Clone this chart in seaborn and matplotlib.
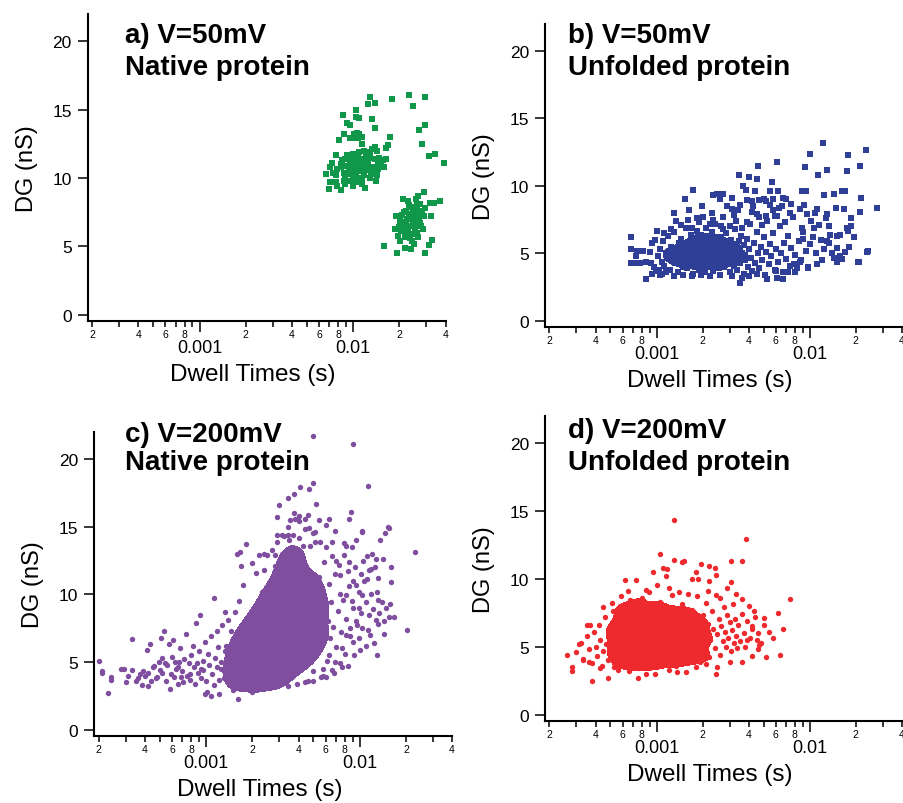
import numpy as np
import pandas as pd
import matplotlib
matplotlib.use('Agg')
import matplotlib.pyplot as plt
from matplotlib.ticker import LogLocator, FuncFormatter, MultipleLocator
from matplotlib.colors import ListedColormap
import seaborn as sns

# (dwell time in ms, DG in nS)
native_50mV = [
    (12.8, 15.9), (17.8, 15.8), (12.5, 15.4), (13.9, 15.5), (10.4, 15.0), (8.6, 14.6), (10.4, 14.5), (11.0, 14.4),
    (13.2, 14.3), (9.1, 14.0), (9.5, 13.9), (13.9, 13.7), (10.6, 13.3), (8.7, 13.2), (10.2, 13.2), (11.0, 13.2),
    (11.4, 13.0), (9.6, 12.9), (8.1, 12.8), (17.3, 13.0), (10.4, 12.9), (10.8, 12.9), (11.4, 12.5), (16.3, 12.2),
    (17.0, 12.4), (13.8, 12.3), (13.3, 12.1), (14.3, 12.0), (12.8, 11.9), (7.8, 11.7), (8.9, 11.4), (10.0, 11.8),
    (10.9, 11.9), (12.1, 11.7),
    (23.3, 16.1), (29.6, 15.9), (24.7, 15.3), (29.6, 13.9), (26.8, 13.5), (28.0, 12.5), (34.0, 11.8), (31.3, 11.6),
    (38.9, 11.1),
    (11.4, 11.4), (10.6, 11.3), (9.6, 11.1), (9.3, 11.4), (8.5, 11.3), (12.8, 11.5), (13.8, 11.4), (14.7, 11.5),
    (15.6, 11.3), (16.5, 11.4), (10.4, 11.0), (10.9, 10.9), (12.0, 11.0), (9.8, 10.8), (9.1, 10.9), (8.3, 11.0),
    (7.3, 11.1), (7.1, 10.8), (6.7, 10.3), (7.9, 10.7), (8.7, 10.4), (9.6, 10.5), (10.5, 10.4), (11.4, 10.5),
    (12.6, 10.8), (13.5, 10.8), (14.5, 10.7), (15.2, 10.9), (16.0, 10.8), (7.8, 10.2), (8.9, 10.0), (10.0, 10.2),
    (10.8, 10.0), (11.7, 10.2), (13.1, 10.3), (14.3, 10.2), (7.1, 9.7), (7.8, 9.7), (8.7, 9.8), (9.6, 9.8),
    (10.5, 9.7), (11.4, 9.6), (12.0, 9.3), (8.9, 9.6), (10.0, 9.4), (8.3, 9.1), (7.0, 9.2), (7.9, 9.4),
    (13.6, 10.3), (14.1, 9.8), (14.5, 11.1), (8.3, 10.8), (7.4, 10.4), (9.3, 10.3),
    (10.2, 11.0), (10.6, 10.7), (11.0, 11.2), (9.9, 11.3), (10.8, 11.6), (11.6, 11.0), (12.3, 10.6), (9.4, 10.6),
    (10.3, 10.1), (11.2, 10.8), (12.0, 11.4), (10.0, 11.6), (9.2, 11.7), (11.8, 12.0), (12.5, 11.2), (13.2, 10.6),
    (8.8, 10.9), (10.7, 9.9), (11.5, 9.9), (12.9, 10.0),
    (28.9, 9.0), (26.5, 8.7), (22.7, 8.3), (21.1, 8.5), (25.8, 8.5), (31.8, 8.2), (33.7, 8.2), (36.8, 8.3),
    (27.1, 8.1), (24.7, 7.85), (29.6, 7.8), (27.7, 7.6), (22.0, 7.6), (19.0, 7.2), (20.9, 7.3), (23.3, 7.4),
    (26.0, 7.2), (28.8, 7.2), (32.3, 7.2), (20.1, 6.9), (22.2, 6.8), (24.6, 6.9), (27.1, 6.7), (18.8, 6.3),
    (20.6, 6.1), (22.7, 6.2), (25.3, 6.3), (28.6, 6.3), (19.5, 5.8), (21.7, 5.7), (24.1, 5.9), (26.5, 5.7),
    (20.1, 5.4), (24.1, 5.4), (32.8, 5.5), (16.0, 5.0), (21.7, 4.9), (24.0, 4.8), (19.2, 4.5), (29.6, 4.5),
    (31.1, 5.1),
    (22.5, 7.0), (23.8, 7.1), (24.9, 6.6), (23.0, 6.5), (21.5, 7.5), (25.5, 7.6), (26.8, 7.0), (24.3, 7.9),
    (22.0, 6.1), (25.9, 6.0), (23.5, 5.6), (27.5, 6.5), (21.0, 6.6), (24.0, 7.3), (23.2, 8.0), (26.0, 8.0),
    (22.8, 5.9), (25.0, 5.2), (28.0, 7.4), (19.8, 6.4),
]

unfolded_50mV_spread = [
    (12.2, 13.2), (10.0, 12.4), (17.9, 12.3), (23.2, 12.7), (4.63, 11.45), (6.08, 11.8), (9.3, 11.4), (13.0, 11.2),
    (17.5, 11.1), (21.2, 11.5), (11.3, 10.8), (3.47, 10.8), (4.0, 10.7), (4.5, 10.5), (5.7, 10.3), (3.66, 10.0),
    (3.86, 9.7), (4.4, 9.6), (1.72, 9.7), (5.5, 9.6), (6.2, 9.6), (8.9, 9.6), (9.4, 9.6), (12.4, 9.3),
    (14.4, 9.4), (16.2, 9.6), (17.1, 9.6), (21.7, 9.1), (27.4, 8.4), (21.3, 8.1), (16.8, 8.3), (18.6, 7.6),
    (13.0, 7.9), (1.53, 9.0), (1.31, 8.0), (1.63, 8.2), (1.97, 8.5), (2.35, 9.3), (2.47, 9.4), (2.73, 9.4),
    (3.1, 9.1), (2.6, 9.0), (3.1, 8.3), (3.52, 8.6), (3.87, 8.95), (4.18, 8.9), (4.7, 8.95), (5.2, 8.9),
    (5.8, 9.0), (6.7, 9.1), (7.5, 8.7), (6.6, 8.5), (5.8, 8.2), (6.1, 7.8), (5.2, 7.8), (4.7, 7.7),
    (4.29, 8.5), (3.2, 7.85), (2.73, 7.7), (2.35, 7.5), (1.83, 7.6), (2.24, 7.2), (1.0, 6.7), (0.68, 6.2),
    (0.94, 5.8), (0.68, 5.3), (0.75, 5.2), (0.82, 5.2), (0.90, 5.1), (0.74, 4.8), (0.68, 4.3), (0.73, 4.3),
    (0.78, 4.3), (0.85, 4.4), (0.92, 4.3), (0.93, 3.5), (0.86, 3.1), (1.04, 3.8), (1.08, 3.5), (8.9, 6.9),
    (9.1, 6.1), (10.6, 6.9), (11.5, 7.1), (13.3, 7.0), (15.1, 6.3), (15.9, 6.4), (17.8, 6.7), (18.6, 7.0),
    (13.0, 5.9), (13.3, 5.8), (15.1, 5.4), (17.1, 5.1), (23.7, 5.1), (20.6, 4.4), (15.9, 4.8), (14.4, 4.7),
    (15.1, 4.4), (11.1, 4.2), (9.7, 3.9), (8.7, 4.4), (7.9, 4.2), (6.1, 3.2), (6.7, 3.1), (3.52, 2.8),
    (4.0, 5.3), (4.1, 7.2), (4.15, 4.7), (4.2, 3.7), (4.3, 5.8), (4.4, 4.3), (4.5, 6.6), (4.6, 5.0),
    (4.7, 3.9), (4.8, 5.5), (4.9, 4.5), (5.0, 6.2), (5.1, 3.4), (5.2, 5.1), (5.3, 7.4), (5.4, 4.2),
    (5.5, 5.7), (5.6, 4.8), (5.8, 6.5), (5.9, 3.8), (6.0, 5.3), (6.2, 4.4), (6.4, 7.0), (6.5, 5.0),
    (6.7, 3.6), (6.8, 5.8), (7.0, 4.6), (7.2, 6.3), (7.4, 4.1), (7.6, 5.4), (7.8, 7.7), (8.0, 4.9),
    (8.3, 3.9), (8.5, 5.9), (8.8, 4.5), (9.0, 6.6), (9.4, 5.2), (9.8, 4.0), (10.0, 5.7), (10.5, 6.2),
    (11.0, 5.0), (10.2, 7.4), (9.6, 7.9), (8.6, 8.3), (7.4, 8.0), (6.9, 7.3), (5.9, 7.8), (5.5, 8.6),
    (4.9, 7.1), (4.5, 7.9), (3.9, 7.3), (3.6, 6.9), (3.3, 7.4), (3.0, 7.0), (2.7, 6.8), (2.4, 7.2),
    (2.1, 6.9), (1.9, 7.3), (1.7, 6.9), (1.45, 7.1), (1.25, 6.8), (1.12, 6.5), (0.98, 6.0), (0.96, 4.0),
    (0.99, 3.7), (1.06, 3.4), (1.16, 3.6), (1.3, 3.3), (1.5, 3.4), (1.7, 3.3), (1.95, 3.4), (2.25, 3.3),
    (2.6, 3.4), (3.1, 3.3), (3.6, 3.2), (4.0, 3.3), (4.5, 3.5), (5.3, 3.1), (6.0, 3.7), (7.2, 3.6),
    (8.0, 3.6), (12.0, 4.5), (12.5, 5.3), (13.6, 6.4), (11.8, 6.0), (14.0, 5.0), (16.2, 4.6), (18.0, 5.5),
    (19.5, 6.2), (24.0, 5.2), (21.0, 4.4), (17.5, 6.9), (12.8, 7.6), (14.8, 8.4), (11.2, 8.3), (10.8, 8.0),
    (9.2, 8.6), (7.0, 9.0), (6.3, 8.4), (5.0, 9.0), (4.2, 8.1), (3.4, 8.2), (2.9, 8.5), (2.3, 8.0),
    (2.0, 7.7), (1.6, 7.5), (1.35, 7.4),
]

unfolded_50mV_core = [
    (1.02, 4.8), (1.05, 5.3), (1.08, 4.4), (1.1, 5.9), (1.12, 4.1), (1.15, 5.0), (1.18, 6.3), (1.2, 4.6),
    (1.22, 3.8), (1.25, 5.5), (1.28, 4.9), (1.3, 6.6), (1.32, 4.3), (1.35, 5.2), (1.38, 3.6), (1.4, 5.8),
    (1.42, 4.7), (1.45, 6.1), (1.48, 4.0), (1.5, 5.4), (1.52, 4.5), (1.55, 6.9), (1.58, 3.9), (1.6, 5.1),
    (1.62, 5.7), (1.65, 4.2), (1.68, 6.4), (1.7, 4.8), (1.72, 3.5), (1.75, 5.3), (1.78, 6.0), (1.8, 4.4),
    (1.82, 5.0), (1.85, 6.7), (1.88, 3.8), (1.9, 5.6), (1.92, 4.6), (1.95, 5.9), (1.98, 4.1), (2.0, 5.2),
    (2.02, 6.3), (2.05, 4.7), (2.08, 3.6), (2.1, 5.5), (2.12, 4.3), (2.15, 6.0), (2.18, 5.0), (2.2, 4.0),
    (2.25, 5.8), (2.28, 4.5), (2.3, 6.6), (2.35, 3.7), (2.38, 5.3), (2.4, 4.9), (2.45, 6.2), (2.48, 4.2),
    (2.5, 5.6), (2.55, 3.9), (2.6, 5.1), (2.62, 7.0), (2.65, 4.6), (2.7, 5.9), (2.75, 4.0), (2.8, 5.4),
    (2.85, 6.5), (2.9, 4.4), (2.95, 5.0), (3.0, 3.6), (3.05, 6.0), (3.1, 4.8), (3.15, 5.5), (3.2, 4.1),
    (3.25, 6.8), (3.3, 5.2), (3.35, 3.8), (3.4, 4.6), (3.45, 5.9), (3.5, 4.3), (3.55, 6.3), (3.6, 5.0),
    (3.7, 3.5), (3.75, 5.6), (3.8, 4.5), (3.9, 6.1), (3.95, 4.0),
    (1.5, 4.9), (1.6, 4.4), (1.7, 5.5), (1.8, 5.2), (1.9, 4.3), (2.0, 4.8), (2.1, 5.8), (2.2, 5.4),
    (2.3, 4.8), (2.4, 5.2), (1.65, 5.9), (1.75, 4.6), (1.85, 4.9), (2.05, 5.1), (2.15, 4.5), (2.35, 5.7),
    (2.5, 4.4), (2.7, 4.9), (2.9, 5.7), (3.1, 5.2), (1.4, 4.4), (1.3, 5.4), (1.2, 5.1), (1.35, 4.7),
    (2.6, 6.2), (2.2, 6.1), (1.95, 6.4), (3.3, 4.6), (3.5, 5.4), (3.8, 4.9),
]

native_200mV_spread = [
    (0.20, 5.1), (0.21, 4.2), (0.21, 4.3), (0.23, 2.7), (0.24, 3.9), (0.24, 3.7), (0.28, 4.5), (0.29, 4.5),
    (0.30, 3.5), (0.31, 4.0), (0.33, 4.4), (0.33, 6.7), (0.35, 3.6), (0.36, 3.8), (0.37, 4.1), (0.38, 3.3),
    (0.39, 4.3), (0.40, 4.0), (0.41, 5.9), (0.42, 3.2), (0.42, 4.2), (0.43, 6.3), (0.44, 3.6), (0.46, 4.7),
    (0.48, 3.9), (0.49, 5.0), (0.50, 4.4), (0.51, 6.8), (0.52, 4.2), (0.53, 7.3), (0.55, 3.6), (0.56, 4.8),
    (0.57, 6.3), (0.58, 3.0), (0.59, 4.1), (0.60, 5.4), (0.61, 6.6), (0.62, 3.9), (0.64, 4.5), (0.66, 3.4),
    (0.67, 5.0), (0.68, 6.0), (0.70, 4.3), (0.71, 3.5), (0.72, 5.2), (0.74, 7.1), (0.75, 4.0), (0.77, 4.9),
    (0.78, 3.7), (0.80, 5.5), (0.82, 6.2), (0.83, 4.6), (0.85, 3.4), (0.86, 7.9), (0.88, 4.2), (0.90, 5.8),
    (0.91, 8.5), (0.93, 3.8), (0.95, 5.1), (0.96, 4.4), (0.98, 6.5), (1.00, 3.6), (1.02, 2.8), (1.03, 5.6),
    (1.05, 4.8), (1.07, 2.5), (1.08, 6.9), (1.10, 4.1), (1.12, 3.3), (1.13, 9.7), (1.15, 5.3), (1.17, 7.3),
    (1.18, 4.6), (1.20, 6.1), (1.22, 3.7), (1.25, 5.0), (1.27, 7.7), (1.30, 4.3), (1.32, 8.7), (1.33, 5.8),
    (0.45, 4.6), (0.52, 5.3), (0.66, 4.6), (0.69, 3.9), (0.79, 4.1), (0.87, 4.9), (0.92, 4.5), (0.63, 5.0),
    (0.54, 4.9), (0.47, 3.8),
    (4.99, 21.7), (9.1, 21.1), (11.3, 18.0), (22.8, 13.1), (20.3, 7.4), (13.0, 5.5), (15.2, 15.0),
    (3.44, 17.1), (3.74, 17.4), (4.1, 17.9), (4.7, 17.8), (4.97, 18.2), (5.2, 16.7), (2.98, 16.6), (3.74, 16.0),
    (4.0, 15.8), (2.9, 15.7), (3.5, 15.5), (3.78, 15.6), (4.4, 15.6), (5.4, 15.5), (6.3, 15.6), (6.9, 14.7),
    (6.0, 15.1), (5.1, 14.6), (4.7, 14.9), (3.1, 14.4), (2.9, 13.9), (1.82, 13.7), (1.66, 13.1), (2.2, 12.9),
    (2.4, 13.0), (2.8, 12.9), (3.4, 14.4), (4.0, 14.2), (4.3, 13.6), (5.1, 13.9), (6.0, 13.5), (6.6, 12.8),
    (7.9, 13.8), (8.9, 13.5), (10.4, 14.6), (8.8, 16.1), (8.5, 15.6), (10.3, 14.7), (13.6, 14.0), (14.6, 14.5),
    (15.5, 14.9), (14.2, 12.6), (16.0, 12.0), (16.1, 10.9), (15.8, 9.3), (16.8, 8.3), (14.8, 9.0), (13.1, 9.6),
    (13.4, 8.6), (12.8, 8.1), (14.3, 8.0), (13.1, 11.2), (11.8, 11.9), (11.1, 12.8), (12.8, 12.6), (11.1, 11.1),
    (10.4, 9.95), (9.9, 9.0), (8.9, 9.5), (8.1, 9.95), (7.5, 11.4), (7.3, 12.2), (8.4, 11.7), (9.4, 10.7),
    (11.5, 8.5), (9.5, 8.0), (8.6, 7.5), (10.4, 7.5), (11.6, 7.0), (9.9, 6.8), (9.1, 6.5), (8.1, 7.0),
    (7.7, 6.0), (6.9, 5.0), (7.7, 4.6), (6.3, 5.5), (5.8, 4.5), (5.8, 4.0), (4.6, 3.6), (1.62, 2.3),
    (1.21, 2.6), (0.99, 2.6), (1.98, 2.8), (2.5, 3.3), (3.1, 3.6),
    (6.7, 7.6), (6.9, 11.5), (7.0, 6.1), (7.2, 8.8), (7.4, 10.0), (7.6, 7.2), (7.8, 9.6), (8.0, 5.6),
    (8.2, 8.2), (8.5, 10.6), (8.7, 6.9), (9.0, 9.0), (9.3, 12.0), (9.6, 7.7), (9.9, 10.2), (10.2, 8.6),
    (10.6, 11.0), (11.0, 9.4), (11.4, 7.4), (11.8, 10.0), (12.2, 8.9),
    (1.35, 6.2), (1.38, 8.1), (1.45, 7.3), (1.55, 8.7), (1.65, 9.5), (1.75, 10.7), (1.7, 12.1), (1.6, 13.0),
    (2.0, 12.3), (2.1, 11.6), (2.4, 11.8), (2.5, 12.9), (2.7, 13.3), (2.9, 14.4), (3.2, 14.3), (3.4, 15.0),
    (3.7, 14.4), (4.0, 15.4), (4.4, 14.8), (4.6, 15.9), (5.0, 14.5), (5.5, 13.9), (6.6, 13.9), (7.0, 12.5),
    (7.9, 12.9), (8.2, 13.6), (9.5, 14.0), (10.5, 12.5), (12.0, 13.0), (12.6, 12.0), (11.5, 11.8), (10.2, 11.5),
    (9.0, 11.0), (8.5, 12.4), (13.0, 10.2), (14.0, 9.4), (15.5, 8.3), (14.5, 7.1), (13.2, 7.8), (12.4, 6.4),
    (11.0, 6.2), (10.0, 5.9), (9.2, 5.5), (8.4, 4.7), (7.4, 4.9), (6.6, 4.4), (5.6, 3.9), (5.0, 3.6),
    (4.4, 3.5), (3.9, 3.4), (3.4, 3.2), (3.0, 3.3), (2.6, 3.1), (2.3, 3.3), (2.0, 3.2), (1.8, 3.0),
    (1.6, 3.3), (1.5, 2.9), (1.3, 3.8), (1.25, 4.5), (6.0, 3.9), (6.8, 4.2),
]

native_200mV_core = [
    (1.40, 4.2), (1.42, 5.0), (1.45, 3.6), (1.47, 5.6), (1.50, 4.6), (1.52, 6.3), (1.55, 3.9), (1.57, 5.2),
    (1.60, 7.0), (1.62, 4.4), (1.65, 5.8), (1.67, 3.5), (1.70, 6.6), (1.72, 4.9), (1.75, 4.0), (1.77, 7.5),
    (1.80, 5.4), (1.82, 3.7), (1.85, 6.1), (1.88, 4.5), (1.90, 8.3), (1.92, 5.0), (1.95, 3.9), (1.97, 6.8),
    (2.00, 5.6), (2.02, 4.3), (2.05, 7.2), (2.07, 3.4), (2.10, 6.0), (2.12, 4.8), (2.15, 9.0), (2.17, 5.3),
    (2.20, 3.8), (2.22, 7.7), (2.25, 6.4), (2.27, 4.5), (2.30, 10.2), (2.32, 5.1), (2.35, 8.4), (2.38, 3.6),
    (2.40, 6.9), (2.42, 4.2), (2.45, 5.8), (2.48, 9.4), (2.50, 4.9), (2.52, 7.4), (2.55, 3.9), (2.58, 6.2),
    (2.60, 11.0), (2.62, 5.4), (2.65, 8.0), (2.68, 4.4), (2.70, 6.7), (2.72, 9.8), (2.75, 5.0), (2.78, 3.7),
    (2.80, 7.6), (2.82, 12.1), (2.85, 5.7), (2.88, 8.8), (2.90, 4.6), (2.95, 6.4), (2.98, 10.6), (3.00, 4.0),
    (3.02, 7.1), (3.05, 5.3), (3.08, 9.2), (3.10, 13.0), (3.12, 6.0), (3.15, 8.3), (3.18, 4.7), (3.20, 11.5),
    (3.22, 7.8), (3.25, 5.6), (3.28, 10.0), (3.30, 6.7), (3.32, 3.8), (3.35, 12.6), (3.38, 8.6), (3.40, 5.1),
    (3.42, 9.5), (3.45, 7.3), (3.48, 14.0), (3.50, 6.2), (3.53, 10.9), (3.56, 4.4), (3.60, 8.0), (3.63, 12.0),
    (3.66, 6.9), (3.70, 9.1), (3.73, 5.4), (3.76, 13.3), (3.80, 7.6), (3.83, 10.4), (3.86, 4.9), (3.90, 8.9),
    (3.93, 6.3), (3.96, 11.6), (4.00, 7.2), (4.04, 9.8), (4.08, 5.8), (4.12, 12.8), (4.16, 8.2), (4.20, 6.6),
    (4.25, 10.6), (4.30, 4.6), (4.35, 7.7), (4.40, 9.3), (4.45, 11.9), (4.50, 6.0), (4.55, 8.6), (4.60, 10.1),
    (4.65, 5.2), (4.70, 7.1), (4.75, 13.6), (4.80, 9.0), (4.85, 6.6), (4.90, 11.0), (4.95, 8.0), (5.00, 4.3),
    (5.1, 7.5), (5.2, 9.6), (5.3, 5.8), (5.4, 11.3), (5.5, 8.4), (5.6, 6.4), (5.7, 10.3), (5.8, 7.0),
    (5.9, 12.4), (6.0, 9.1), (6.1, 5.1), (6.2, 8.0), (6.3, 10.8), (6.4, 6.8), (6.5, 9.4),
    (1.8, 6.2), (1.9, 7.0), (2.0, 8.0), (2.1, 4.4), (2.2, 5.9), (2.3, 7.0), (2.4, 8.0), (2.5, 6.0),
    (2.6, 4.7), (2.7, 5.7), (2.8, 6.4), (2.9, 7.0), (3.0, 8.0), (3.1, 5.0), (3.2, 6.4), (3.3, 7.5),
    (3.4, 9.0), (3.5, 4.7), (3.6, 5.7), (3.7, 7.0), (3.8, 8.5), (3.9, 10.0), (4.0, 5.5), (4.1, 6.9),
    (4.2, 9.0), (4.3, 7.9), (4.4, 6.3), (4.6, 7.3), (2.25, 4.2), (2.45, 4.5), (2.65, 5.1), (2.85, 4.2),
    (3.05, 4.4), (3.25, 4.2), (1.75, 5.1), (1.6, 5.9), (1.95, 4.8), (2.15, 6.7), (2.55, 7.2), (2.75, 8.6),
    (3.15, 10.0), (3.45, 11.3), (3.75, 11.0), (4.05, 10.8), (3.55, 12.5), (3.3, 11.8), (2.95, 9.0), (2.65, 10.0),
    (2.35, 9.0),
]

unfolded_200mV_spread = [
    (1.30, 14.3), (3.85, 12.9), (1.06, 11.85), (1.31, 11.4), (1.46, 11.2), (1.51, 11.3), (3.08, 11.3), (3.6, 11.3),
    (1.95, 11.1), (2.2, 10.9), (2.4, 10.8), (2.45, 10.3), (1.8, 10.5), (1.7, 10.0), (1.86, 9.95), (1.1, 10.8),
    (1.17, 10.7), (0.95, 10.5), (1.15, 10.2), (0.62, 9.9), (0.73, 9.9), (3.08, 9.75), (2.2, 9.85), (2.17, 9.1),
    (2.87, 9.3), (3.64, 8.5), (4.3, 7.6), (5.0, 7.1), (6.2, 7.5), (7.46, 8.5), (6.7, 6.3), (6.4, 4.4),
    (5.2, 4.2), (4.2, 4.3), (4.6, 4.8), (4.7, 5.1), (4.5, 5.5), (3.9, 5.5), (4.2, 6.3), (0.26, 4.4),
    (0.28, 3.5), (0.28, 3.2), (0.38, 2.45), (0.48, 2.7), (0.76, 2.7), (0.86, 3.0), (0.98, 3.0), (1.37, 3.1),
    (1.56, 3.1), (2.46, 3.0), (2.1, 3.7), (2.5, 3.5), (0.43, 3.4), (0.36, 3.9), (0.31, 5.2), (0.35, 6.6),
    (0.37, 6.6), (0.45, 7.9), (0.51, 8.2), (0.59, 8.7), (0.65, 9.1), (1.2, 9.3), (1.4, 9.0), (1.0, 9.5),
    (0.85, 9.2), (1.6, 8.9), (2.6, 8.6), (3.3, 8.9), (3.0, 3.9), (3.6, 3.9), (1.8, 3.5), (1.2, 3.3),
    (0.66, 3.2), (0.56, 3.3), (0.33, 4.0),
    (0.30, 4.6), (0.32, 5.3), (0.33, 4.1), (0.35, 5.8), (0.36, 4.8), (0.38, 3.8), (0.39, 6.1), (0.40, 5.0),
    (0.41, 4.3), (0.42, 6.6), (0.43, 5.5), (0.44, 3.6), (0.45, 4.7), (0.46, 7.2), (0.47, 5.2), (0.48, 4.0),
    (2.30, 7.6), (2.35, 6.3), (2.40, 4.9), (2.45, 8.8), (2.50, 5.9), (2.55, 7.0), (2.60, 4.4), (2.65, 6.5),
    (2.70, 5.4), (2.75, 7.9), (2.80, 6.1), (2.85, 5.0), (2.90, 7.3), (2.95, 5.6), (3.00, 6.8), (3.05, 4.7),
    (3.10, 6.2), (3.15, 8.1), (3.20, 5.3), (3.25, 7.0), (3.30, 5.8), (3.35, 4.9), (3.40, 6.6), (3.50, 5.4),
    (3.60, 7.4), (3.70, 6.0), (3.80, 5.0), (3.90, 6.9), (4.00, 8.0), (4.10, 5.6), (4.20, 6.5), (4.40, 7.2),
    (4.60, 6.0), (4.80, 5.3), (5.00, 6.6), (5.40, 6.1), (5.80, 5.6),
]

unfolded_200mV_core = [
    (0.49, 6.3), (0.50, 5.7), (0.51, 4.5), (0.52, 7.6), (0.53, 3.5), (0.54, 5.0), (0.55, 6.8), (0.56, 4.2),
    (0.57, 5.9), (0.58, 8.0), (0.59, 4.8), (0.60, 6.3), (0.61, 3.8), (0.62, 5.4), (0.63, 7.3), (0.64, 4.5),
    (0.65, 6.0), (0.66, 5.1), (0.67, 8.4), (0.68, 3.6), (0.69, 6.6), (0.70, 4.7), (0.71, 5.6), (0.72, 7.8),
    (0.73, 4.2), (0.74, 6.2), (0.75, 5.3), (0.76, 3.4), (0.77, 7.0), (0.78, 4.9), (0.79, 5.8), (0.80, 8.6),
    (0.81, 4.4), (0.82, 6.5), (0.83, 5.0), (0.84, 3.9), (0.85, 7.4), (0.86, 5.5), (0.87, 4.6), (0.88, 6.1),
    (0.89, 9.0), (0.90, 5.2), (0.91, 3.7), (0.92, 6.8), (0.93, 4.8), (0.94, 5.9), (0.95, 7.9), (0.96, 4.3),
    (0.97, 6.4), (0.98, 5.4), (0.99, 3.5), (1.00, 7.1), (1.02, 4.9), (1.04, 6.0), (1.06, 8.3), (1.08, 4.4),
    (1.10, 5.6), (1.12, 6.9), (1.14, 3.9), (1.16, 5.1), (1.18, 7.6), (1.20, 4.6), (1.22, 6.3), (1.24, 5.3),
    (1.26, 8.8), (1.28, 4.1), (1.30, 6.7), (1.32, 5.0), (1.34, 3.6), (1.36, 7.3), (1.38, 5.8), (1.40, 4.5),
    (1.43, 6.1), (1.46, 8.1), (1.49, 4.8), (1.52, 5.5), (1.55, 7.0), (1.58, 3.8), (1.61, 6.4), (1.64, 5.2),
    (1.67, 4.3), (1.70, 7.7), (1.73, 5.9), (1.76, 4.7), (1.80, 6.6), (1.84, 8.7), (1.88, 5.3), (1.92, 3.9),
    (1.96, 6.2), (2.00, 7.3), (2.04, 4.6), (2.08, 5.7), (2.12, 8.2), (2.16, 6.7), (2.20, 4.2), (2.25, 5.5),
    (0.58, 5.1), (0.62, 6.6), (0.66, 4.6), (0.68, 5.8), (0.70, 7.0), (0.72, 5.0), (0.74, 6.7), (0.76, 5.6),
    (0.78, 6.0), (0.80, 4.8), (0.82, 5.4), (0.84, 6.9), (0.86, 6.2), (0.88, 5.0), (0.90, 7.3), (0.92, 5.6),
    (0.94, 4.6), (0.96, 6.9), (0.98, 6.1), (1.00, 5.1), (1.02, 6.6), (1.04, 5.4), (1.06, 7.0), (1.08, 5.9),
    (1.10, 4.8), (1.12, 6.2), (1.14, 5.6), (1.16, 7.1), (1.18, 5.3), (1.20, 6.7), (1.22, 4.9), (1.24, 6.0),
    (1.26, 5.5), (1.28, 7.0), (1.30, 5.6), (1.32, 6.3), (0.64, 5.5), (0.73, 5.4), (0.83, 5.9), (0.93, 5.3),
    (1.03, 5.9), (1.13, 5.0), (1.23, 5.8), (0.87, 6.6), (0.97, 5.7), (1.07, 6.3), (0.77, 6.4), (0.69, 6.2),
    (1.17, 6.5), (1.27, 6.5),
]

panel_titles = [("a) V=50mV", "Native protein"), ("b) V=50mV", "Unfolded protein"),
                ("c) V=200mV", "Native protein"), ("d) V=200mV", "Unfolded protein")]
panel_colors = ["#10974a", "#2f3f98", "#7f4e9f", "#ee2a2e"]
minor_labelled = [2, 4, 6, 8]

sns.set_theme(style="ticks")
plt.rcParams['font.family'] = ['Liberation Sans', 'DejaVu Sans']
plt.rcParams.update({'text.color': 'black', 'axes.labelcolor': 'black',
                     'xtick.color': 'black', 'ytick.color': 'black'})

fig = plt.figure(figsize=(9.04, 8.04), dpi=100)

# axes rectangles (fig fraction) and title baselines (axes fraction)
rects = [[0.0970, 0.5995, 0.3960, 0.3818], [0.6029, 0.5920, 0.3949, 0.3769],
         [0.1043, 0.0837, 0.3960, 0.3777], [0.6029, 0.1024, 0.3949, 0.3794]]
title_pos = [(0.104, 0.908, 0.805), (0.065, 0.940, 0.835), (0.086, 0.971, 0.878), (0.065, 0.929, 0.825)]
markers = ['s', 's', 'o', 'o']
panels = [(native_50mV, []), (unfolded_50mV_spread, unfolded_50mV_core),
          (native_200mV_spread, native_200mV_core), (unfolded_200mV_spread, unfolded_200mV_core)]
core_levels = [None, 0.35, 0.12, 0.12]

def minor_fmt(v, pos):
    d = int(round(v / 10 ** np.floor(np.log10(v) + 1e-9)))
    return str(d) if d in minor_labelled else ''

for i, (spread, core) in enumerate(panels):
    ax = fig.add_axes(rects[i])
    df = pd.DataFrame(spread + core, columns=['dwell_ms', 'dg'])
    df['dwell'] = df['dwell_ms'] / 1000.0
    col = panel_colors[i]

    # the densest part, where the original markers merge into one solid patch
    if core:
        core_df = pd.DataFrame(core, columns=['dwell_ms', 'dg'])
        sns.kdeplot(x=core_df['dwell_ms'].to_numpy() / 1000.0, y=core_df['dg'].to_numpy(),
                    log_scale=(True, False), fill=True, levels=[core_levels[i], 1],
                    cmap=ListedColormap([col, col]), bw_adjust=0.8, ax=ax)
    sns.scatterplot(data=df, x='dwell', y='dg', marker=markers[i], s=15, color=col,
                    linewidth=0, ax=ax)

    ax.set_xscale('log')
    ax.set_xlim(1.87e-4, 0.0401)
    ax.set_ylim(-0.45, 22)
    ax.yaxis.set_major_locator(MultipleLocator(5))
    ax.xaxis.set_major_locator(LogLocator(base=10, numticks=12))
    ax.xaxis.set_minor_locator(LogLocator(base=10, subs=np.arange(2, 10), numticks=12))
    ax.xaxis.set_major_formatter(FuncFormatter(lambda v, p: f'{v:g}'))
    ax.xaxis.set_minor_formatter(FuncFormatter(minor_fmt))

    sns.despine(ax=ax)
    for s in ['left', 'bottom']:
        ax.spines[s].set_linewidth(1.5)
        ax.spines[s].set_color('black')
    ax.tick_params(axis='x', which='major', length=8, width=1.1, labelsize=13, pad=5)
    ax.tick_params(axis='x', which='minor', length=4, width=1.1, labelsize=7.5, pad=2)
    ax.tick_params(axis='y', which='major', length=7.5, width=1.1, labelsize=12.5, pad=4)

    ax.set_xlabel('Dwell Times (s)', fontsize=17.5)
    ax.set_ylabel('DG (nS)', fontsize=17)
    ax.xaxis.set_label_coords(0.461, -0.138)
    ax.yaxis.set_label_coords(-0.14, 0.5)

    tx, ty1, ty2 = title_pos[i]
    ax.text(tx, ty1, panel_titles[i][0], transform=ax.transAxes, fontsize=20,
            fontweight='bold', va='baseline', ha='left')
    ax.text(tx, ty2, panel_titles[i][1], transform=ax.transAxes, fontsize=20,
            fontweight='bold', va='baseline', ha='left')

fig.savefig('out.png', dpi=100, facecolor='white')
